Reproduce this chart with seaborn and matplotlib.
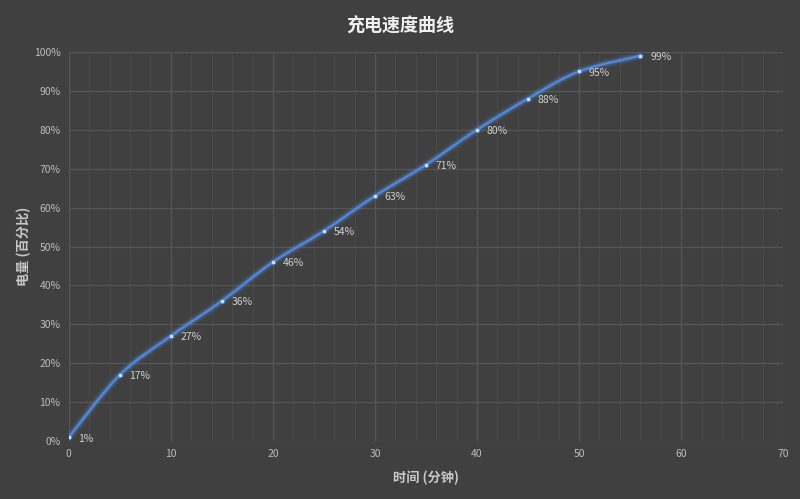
import numpy as np
import pandas as pd
import matplotlib
matplotlib.use('Agg')
import matplotlib.pyplot as plt
from matplotlib.path import Path
from matplotlib.patches import PathPatch
from matplotlib.ticker import MultipleLocator, PercentFormatter
import seaborn as sns

# data
minutes = [0, 5, 10, 15, 20, 25, 30, 35, 40, 45, 50, 56]
battery = [1, 17, 27, 36, 46, 54, 63, 71, 80, 88, 95, 99]
title = '充电速度曲线'
xlabel = '时间 (分钟)'
ylabel = '电量 (百分比)'

df = pd.DataFrame({'minutes': minutes, 'battery': battery})

bg = '#404040'
sns.set_theme(style='dark')
plt.rcParams['font.family'] = ['Noto Sans CJK SC', 'DejaVu Sans']

fig = plt.figure(figsize=(8, 4.99), dpi=100, facecolor=bg)
ax = fig.add_axes([0.086, 0.116, 0.893, 0.78])
ax.set_facecolor(bg)

# smooth curve (Catmull-Rom as cubic bezier segments)
pts = df[['minutes', 'battery']].to_numpy(dtype=float)
verts = [pts[0]]
codes = [Path.MOVETO]
for i in range(len(pts) - 1):
    p0 = pts[i - 1] if i > 0 else pts[i]
    p1 = pts[i]
    p2 = pts[i + 1]
    p3 = pts[i + 2] if i + 2 < len(pts) else pts[i + 1]
    c1 = p1 + (p2 - p0) / 6
    c2 = p2 - (p3 - p1) / 6
    verts += [c1, c2, p2]
    codes += [Path.CURVE4] * 3
path = Path(verts, codes)
for lw, a in [(7, 0.06), (5, 0.1), (3.5, 0.16)]:
    ax.add_patch(PathPatch(path, fill=False, lw=lw, color='#5f9cff', alpha=a, capstyle='round'))
ax.add_patch(PathPatch(path, fill=False, lw=1.8, color='#4f86d6', capstyle='round'))

sns.scatterplot(data=df, x='minutes', y='battery', ax=ax, s=9, color='#d6e6ff',
                edgecolor='#4f86d6', linewidth=0.6, zorder=5)

for m, b in zip(minutes, battery):
    ax.annotate(f'{b}%', (m, b), xytext=(7, -1), textcoords='offset points',
                fontsize=7.5, color='#d0d0d0', va='center', ha='left')

ax.set_xlim(0, 70)
ax.set_ylim(0, 100)
ax.xaxis.set_major_locator(MultipleLocator(10))
ax.xaxis.set_minor_locator(MultipleLocator(2))
ax.yaxis.set_major_locator(MultipleLocator(10))
ax.yaxis.set_major_formatter(PercentFormatter(decimals=0))
ax.grid(which='major', color='#565656', lw=0.9)
ax.grid(which='minor', axis='x', color='#494949', lw=0.8)
ax.tick_params(which='both', length=0, colors='#bdbdbd', labelsize=7.5, pad=6)
for s in ax.spines.values():
    s.set_visible(False)

ax.set_xlabel(xlabel, color='#c8c8c8', fontsize=9.5, fontweight='bold', labelpad=8)
ax.set_ylabel(ylabel, color='#c8c8c8', fontsize=9.5, fontweight='bold', labelpad=2)
fig.text(0.5, 0.948, title, ha='center', va='center', color='#f0f0f0',
         fontsize=13, fontweight='bold')

fig.savefig('out.png', dpi=100, facecolor=bg)
